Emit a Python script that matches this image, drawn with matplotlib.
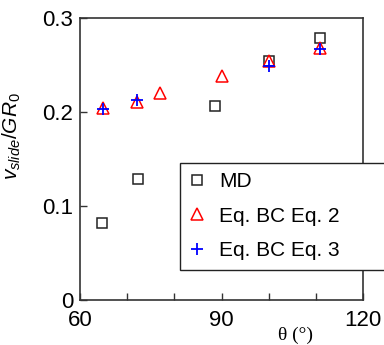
import numpy as np
import matplotlib
matplotlib.use('Agg')
import matplotlib.pyplot as plt

plt.rcParams['font.family'] = ['Liberation Sans', 'DejaVu Sans']
plt.rcParams['mathtext.fontset'] = 'custom'
plt.rcParams['mathtext.rm'] = 'Liberation Sans'
plt.rcParams['mathtext.it'] = 'Liberation Sans:italic'

# data
md_theta = [64.6, 72.4, 88.6, 100.1, 110.9]
md_v = [0.082, 0.129, 0.206, 0.254, 0.279]

eq2_theta = [64.8, 72.0, 77.0, 90.0, 100.1, 110.9]
eq2_v = [0.204, 0.211, 0.220, 0.238, 0.254, 0.268]

eq3_theta = [64.8, 72.0, 100.1, 110.9]
eq3_v = [0.203, 0.213, 0.249, 0.267]

xticks = [60, 70, 80, 90, 100, 110, 120]
xticklabels = ['60', '', '', '90', '', '', '120']
yticks = [0, 0.1, 0.2, 0.3]
yticklabels = ['0', '0.1', '0.2', '0.3']

fig = plt.figure(figsize=(3.84, 3.45), dpi=100)
ax = fig.add_axes([80 / 384, 45 / 345, 283 / 384, 282 / 345])

ax.plot(md_theta, md_v, 's', ms=6.5, mfc='none', mec='#222222', mew=1.1, label='MD')
ax.plot(eq2_theta, eq2_v, '^', ms=9, mfc='none', mec='red', mew=1.1, label='Eq. BC Eq. 2')
ax.plot(eq3_theta, eq3_v, '+', ms=9, mec='blue', mew=1.3, label='Eq. BC Eq. 3')

ax.set_xlim(60, 120)
ax.set_ylim(0, 0.3)
ax.set_xticks(xticks)
ax.set_xticklabels(xticklabels)
ax.set_yticks(yticks)
ax.set_yticklabels(yticklabels)
ax.tick_params(direction='in', length=5, width=1, labelsize=16, color='#333333')
ax.tick_params(axis='x', pad=7)
ax.tick_params(axis='y', pad=5)
for s in ax.spines.values():
    s.set_linewidth(1.2)
    s.set_color('#333333')

ax.set_ylabel(r'$v_{slide}/GR_0$', fontsize=15)
ax.yaxis.set_label_coords(-0.2, 0.58)
ax.set_xlabel('θ (°)', fontsize=14, family=['Liberation Serif', 'DejaVu Serif'])
ax.xaxis.set_label_coords(0.76, -0.095)

leg = ax.legend(loc='upper left', bbox_to_anchor=(0.353, 0.087, 0.8, 0.4), mode='expand',
                fontsize=15, frameon=True, fancybox=False, edgecolor='#222222',
                handletextpad=0.75, labelspacing=0.75, borderpad=0.45, handlelength=0.7,
                borderaxespad=0)
leg.get_frame().set_linewidth(1.0)
leg.get_frame().set_alpha(1)

fig.savefig('out.png', dpi=100)
